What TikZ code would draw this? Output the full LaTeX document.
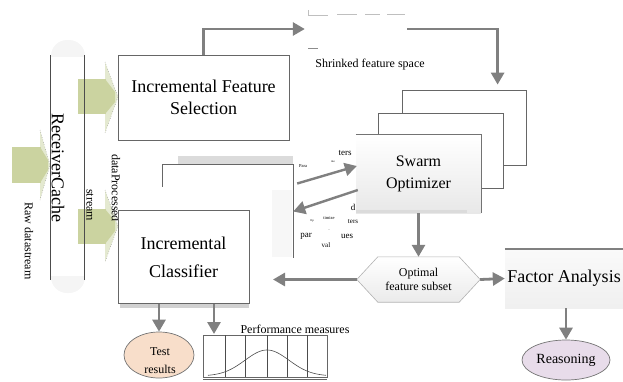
\documentclass[tikz,border=0pt]{standalone}
\usepackage{fontspec}
\setmainfont{Liberation Serif}
\usetikzlibrary{arrows.meta,shapes.geometric,calc,backgrounds}
\definecolor{gfill}{RGB}{203,211,160}
\definecolor{ghead}{RGB}{228,233,208}
\definecolor{testfill}{RGB}{248,222,202}
\definecolor{reasfill}{RGB}{232,220,234}
\begin{document}
\begin{tikzpicture}[x=1pt,y=-1pt,
  box/.style={draw=black!60, line width=0.8pt, fill=white, inner sep=2pt, align=center},
  garrow/.style={draw=black!50, line width=2.8pt, -{Triangle[length=12pt,width=13pt]}},
  bigf/.style={font=\fontsize{18}{22}\selectfont},
  medf/.style={font=\fontsize{12}{14}\selectfont},
  fsa/.style={font=\fontsize{9}{9}\selectfont, inner sep=0},
  fsb/.style={font=\fontsize{7}{7}\selectfont, inner sep=0},
  fsc/.style={font=\fontsize{4.5}{5}\selectfont, inner sep=0},
  fsd/.style={font=\fontsize{3}{3}\selectfont, inner sep=0},
  gout/.style={draw=black!45, dotted, line width=0.5pt},
  faint/.style={draw=black!25, line width=1pt}
]
\useasboundingbox (0,0) rectangle (623,381);

% ---------- receiver cache capsule ----------
\fill[black!4, rounded corners=16pt] (51,40) rectangle (85,293);
\fill[white] (51,57) rectangle (85,276);
\node[rotate=-90, bigf, inner sep=0] (cache) at (58,168) {ReceiverCache};

% ---------- green block arrows ----------
% raw datastream
\fill[ghead] (40,130) -- (50,165) -- (40,200) -- cycle;
\fill[gfill] (12,147) rectangle (41,183);
\fill[gfill] (40,147) -- (48,160) -- (48,170) -- (40,183) -- cycle;
\draw[gout] (40,130) -- (50,165) -- (40,200);
% to feature selection
\fill[ghead] (105,62) -- (118,97) -- (105,133) -- cycle;
\fill[gfill] (78,79) rectangle (106,114);
\fill[gfill] (105,79) -- (115,92) -- (115,102) -- (105,114) -- cycle;
\draw[gout] (105,62) -- (118,97) -- (105,133);
% to classifier
\fill[ghead] (105,190) -- (118,226) -- (105,262) -- cycle;
\fill[gfill] (78,209) rectangle (106,244);
\fill[gfill] (105,209) -- (115,221) -- (115,231) -- (105,244) -- cycle;
\draw[gout] (105,190) -- (118,226) -- (105,262);

\draw[black!70, line width=0.7pt] (50,55) -- (50,280);
\draw[black!70, line width=0.7pt] (84,55) -- (84,280);

\node[rotate=-90, medf, inner sep=0] (rawl) at (29,241) {Raw datastream};
\node[rotate=-90, medf, inner sep=0] (streaml) at (90,205) {stream};
\node[rotate=-90, medf, inner sep=0] (procl) at (116,188) {dataProcessed};

% ---------- incremental feature selection ----------
\node[box, bigf, minimum width=171pt, minimum height=85pt] (ifs) at (203.5,97.5) {Incremental Feature\\Selection};

% ---------- shrinked feature space ----------
\node[minimum width=102pt, minimum height=30pt, inner sep=0] (shr) at (356,29) {};
\draw[faint] (308,10) -- (308,15) -- (328,15);
\draw[faint] (337,14) -- (357,14);
\draw[faint] (365,14) -- (380,14);
\draw[faint] (387,14) -- (405,14);
\draw[black!45, line width=1pt] (308,48) -- (318,48);
\node[medf, inner sep=0] (shrl) at (370,65) {Shrinked feature space};

% ---------- swarm optimizer stack ----------
\node[box, minimum width=124pt, minimum height=75pt] (swb) at (464,127.5) {};
\node[box, minimum width=125pt, minimum height=75pt] (swm) at (440.5,150.5) {};
\node[minimum width=125pt, minimum height=78pt, top color=white, bottom color=black!9,
      align=center, font=\fontsize{16}{22}\selectfont] (swf) at (418.5,174) {Swarm\\Optimizer};
\draw[black!55, line width=0.8pt] (swf.north west) -- (swf.north east) -- (swf.south east);
\fill[black!14] (swf.south west) rectangle ($(swf.south east)+(-14,-3)$);

% ---------- classifier stack ----------
\fill[black!14] (178,156) rectangle (293,165);
\node[minimum width=130pt, minimum height=93pt, fill=white] (clm) at (228,211.5) {};
\fill[black!3] (272,190) rectangle (292,257);
\draw[black!60, line width=0.8pt] ($(clm.north west)+(0,22)$) -- (clm.north west) -- (clm.north east) -- (clm.south east);
\fill[black!18] (120,303) rectangle (249,308);
\node[box, minimum width=131pt, minimum height=93pt, font=\fontsize{18}{28}\selectfont] (cls) at (183.5,257) {Incremental\\Classifier};

% ---------- arrows between classifier and swarm ----------
\draw[garrow, line width=2.4pt] ($(clm.east)+(4,-28)$) -- ($(swf.west)+(1,-8)$);
\draw[garrow, line width=2.4pt] ($(swf.west)+(2,16)$) -- (clm.east);
\node[fsa] (t1) at (345,153) {ters};
\node[fsc] (t2) at (303,166) {Para};
\node[fsd] (t3) at (333,162) {me};
\node[fsa] (t4) at (353,207) {d};
\node[fsd] (t5) at (312,221) {Op};
\node[fsc] (t6) at (329,218) {timize};
\node[fsb] (t7) at (353,222) {ters};
\node[fsd] (t8) at (329,230) {--};
\node[fsa] (t9) at (306,236) {par};
\node[fsa] (t10) at (347,236) {ues};
\node[fsb] (t11) at (326,245) {val};

% ---------- optimal feature subset ----------
\node[minimum width=123pt, minimum height=45pt, align=center, inner sep=0,
      font=\fontsize{12}{14}\selectfont] (hex) at (418.5,279.5) {Optimal\\feature subset};
\begin{pgfonlayer}{background}
\path[draw=black!30, line width=0.6pt, top color=white, bottom color=black!8]
  (hex.west) -- ($(hex.north west)+(21,0)$) -- ($(hex.north east)+(-21,0)$) -- (hex.east)
  -- ($(hex.south east)+(-21,0)$) -- ($(hex.south west)+(21,0)$) -- cycle;
\end{pgfonlayer}

% ---------- factor analysis ----------
\node[minimum width=118pt, minimum height=59pt, top color=black!2, bottom color=black!6,
      bigf, inner sep=0] (fa) at (564,278.5) {Factor Analysis};
\draw[black!50, line width=1.5pt] (fa.north west) -- (fa.north east);

\node[ellipse, draw=black!55, line width=0.7pt, fill=reasfill, minimum width=88pt, minimum height=40pt,
      font=\fontsize{14}{16}\selectfont, inner sep=0] (reas) at (566,360) {Reasoning};

% ---------- outputs of classifier ----------
\node[ellipse, draw=black!55, line width=0.7pt, fill=testfill, minimum width=70pt, minimum height=46pt] (test) at (159,355) {};
\node[align=center, font=\fontsize{12}{18}\selectfont, inner sep=0] (testl) at (160,361) {Test\\results};

\node[draw=black!60, line width=0.8pt, minimum width=124pt, minimum height=42pt, inner sep=0] (chart) at (265,356) {};
\foreach \vx in {225,245,267,287,307} \draw[black!70, line width=0.6pt] (\vx,335) -- (\vx,377);
\draw[black!60, line width=0.8pt] (203,379.5) -- (327,379.5);
\draw[black!70, line width=0.6pt] plot[domain=208:326, samples=80, smooth] (\x, {376-26*exp(-0.5*((\x-267)/22)*((\x-267)/22))});
\node[medf, inner sep=0] (perfl) at (295,329) {Performance measures};
\coordinate (pm) at (214,334);

% ---------- gray connectors ----------
\draw[garrow] (ifs.north) |- (shr.west);
\draw[garrow] (shr.east) -| ($(swb.north west)+(96,-5)$);
\draw[garrow] (swf.south) -- (hex.north);
\coordinate (clsin) at (273,279.5);
\draw[garrow] (hex.west) -- (clsin);
\draw[garrow] (hex.east) -- (fa.west);
\draw[garrow] (reas.north |- fa.south) -- (reas.north);
\draw[garrow] (cls.south -| test.north) -- (test.north);
\draw[garrow] (cls.south -| pm) -- (pm);
\end{tikzpicture}
\end{document}
